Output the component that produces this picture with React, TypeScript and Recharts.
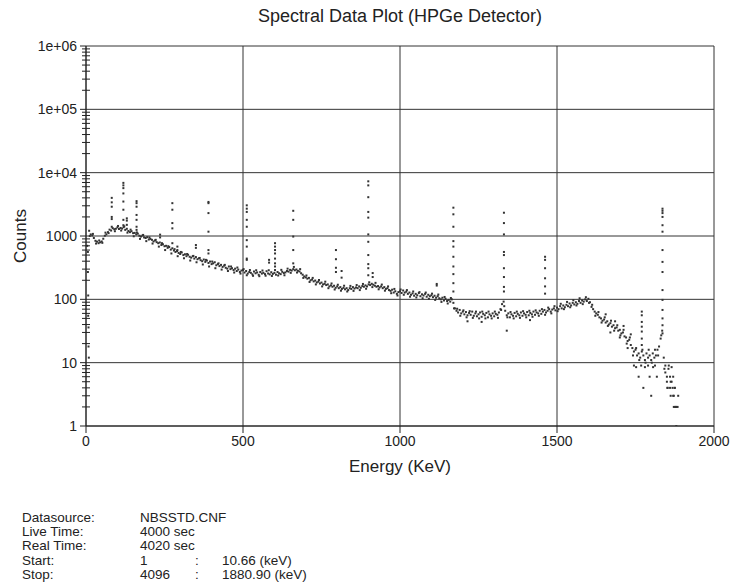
import { ScatterChart, Scatter, XAxis, YAxis, CartesianGrid, ReferenceLine } from "recharts";

const FONT = '"Liberation Sans", Arial, Helvetica, sans-serif';
const INK = "#222";

const xTicks = [0, 500, 1000, 1500, 2000];
const decadeTicks = [1, 10, 100, 1000, 10000, 100000, 1000000];
const decadeLabels = ["1", "10", "100", "1000", "1e+04", "1e+05", "1e+06"];
const minorSteps = [2, 3, 4, 5, 6, 7, 8, 9];

// continuum, one reading every 5 keV
const STEP = 5;
const continuumA = [
  1210, 1060, 1020, 930, 840, 815, 770, 795, 820, 905,
  1010, 1060, 1150, 1260, 1220, 1330, 1280, 1300, 1370, 1290,
  1340, 1310, 1380, 1250, 1300, 1200, 1150, 1190, 1110, 1120,
  1060, 1090, 1010, 980, 1020, 950, 930, 960, 880, 900,
  870, 820, 850, 800, 770, 790, 720, 740, 690, 700,
  650, 670, 610, 640, 590, 560, 580, 540, 520, 550,
  500, 515, 480, 505, 470, 455, 480, 440, 465, 430,
  445, 415, 400, 425, 390, 410, 375, 395, 360, 370,
  385, 345, 360, 335, 350, 325, 340, 315, 305, 330,
  300, 310, 290, 305, 280, 295, 270, 285,
]; // from 10 keV
const continuumB = [
  290, 265, 280, 255, 270, 262, 248, 275, 258, 266,
  244, 270, 255, 262, 250, 278, 256, 248, 268, 252,
  262, 245, 270, 258, 250, 272, 260, 266, 280, 274,
  292, 285, 300, 288, 296, 282, 275, 258, 245, 230,
  222, 212, 218, 200, 205, 192, 198, 185, 190, 178,
  184, 172, 176, 168, 172, 160, 166, 158, 164, 152,
  160, 150, 156, 146, 152, 144, 150, 140, 150, 146,
  156, 148, 154, 150, 160, 152, 162, 158, 166, 160,
  172, 168, 176, 170, 164, 158, 162, 154, 160, 150,
  156, 146, 150, 140, 136, 142, 128, 134, 122, 130,
]; // from 500 keV
const continuumC = [
  134, 126, 138, 128, 132, 122, 128, 118, 124, 114,
  122, 116, 126, 112, 120, 115, 122, 110, 118, 112,
  116, 108, 114, 106, 112, 104, 100, 106, 96, 102,
  94, 98, 92, 100, 88, 72, 66, 62, 68, 60,
  64, 58, 63, 56, 61, 57, 64, 55, 60, 54,
  58, 62, 53, 59, 56, 61, 52, 58, 55, 60,
  54, 59, 57, 62, 70, 84, 92, 66, 56, 60,
  52, 58, 55, 61, 54, 59, 56, 62, 55, 60,
  57, 63, 56, 61, 58, 64, 57, 62, 60, 66,
  59, 64, 68, 62, 66, 70, 64, 69, 72, 67,
]; // from 1000 keV
const continuumD = [
  74, 70, 78, 72, 80, 75, 82, 78, 86, 80,
  88, 83, 90, 85, 94, 88, 96, 92, 100, 94,
  102, 90, 76, 70, 64, 60, 57, 52, 50, 46,
  48, 43, 45, 40, 42, 37, 39, 35, 36, 32,
  33, 29, 30, 26, 25, 22, 23, 19, 17, 15,
  16, 13, 14, 12, 15, 13, 11, 14, 12, 13,
  11, 14, 12, 13, 16, 18, 24, 32, 12, 7,
  5, 8, 4, 5, 3, 4, 2,
]; // from 1500 keV
const continuumStarts = [10, 500, 1000, 1500];

// second set of channel readings between the ones above, every 10 keV
const STEP2 = 10;
const scatterA = [
  1000, 1080, 760, 850, 780, 1130, 1110, 1400, 1190, 1440,
  1220, 1420, 1130, 1260, 990, 1140, 900, 1040, 830, 950,
  760, 870, 680, 770, 600, 690, 530, 620, 480, 560,
  445, 520, 410, 485, 385, 450, 355, 420, 330, 395,
  310, 370, 295, 350, 280, 330, 265, 318, 255,
]; // from 12 keV
const scatterB = [
  300, 240, 290, 235, 288, 232, 285, 236, 288, 234,
  290, 238, 292, 240, 305, 262, 325, 265, 300, 218,
  238, 188, 218, 172, 202, 160, 190, 150, 178, 143,
  170, 137, 164, 133, 163, 136, 168, 140, 175, 147,
  186, 156, 182, 144, 171, 137, 160, 125, 146, 115,
]; // from 502 keV
const scatterC = [
  143, 118, 140, 110, 133, 107, 130, 104, 128, 102,
  123, 98, 119, 91, 109, 86, 105, 72, 71, 55,
  67, 52, 65, 51, 64, 50, 64, 50, 64, 50,
  64, 51, 68, 78, 52, 63, 50, 64, 51, 65,
  52, 66, 53, 67, 55, 70, 57, 74, 60, 78,
]; // from 1002 keV
const scatterD = [
  65, 85, 70, 91, 75, 97, 80, 104, 84, 108,
  88, 82, 55, 63, 43, 52, 38, 46, 32, 39,
  27, 33, 20, 25, 13, 17, 11, 16, 10, 16,
  10, 16, 13, 27, 8, 4, 5, 3,
]; // from 1502 keV
const scatterStarts = [12, 502, 1002, 1502];

// full-energy peaks: channel readings stacked above the continuum
const peakEnergies = [82, 119, 130, 161, 236, 275, 291, 350, 390, 512, 583, 602, 660, 796, 814, 899, 913, 1117, 1170, 1331, 1462, 1770, 1836];
const peakCounts = [
  [4000, 3400, 2900, 2000, 1850],
  [6900, 6300, 5700, 4700, 3500, 2600, 1800, 1480],
  [1900, 1750, 1500],
  [3550, 3300, 2900, 2150, 1800, 1400, 1250],
  [1050, 950],
  [3300, 2600, 1600, 1320, 770],
  [680, 600],
  [720, 650],
  [3450, 3300, 2300, 1170, 600, 530],
  [3050, 2700, 2400, 1800, 1400, 860, 680, 440, 420],
  [420, 380],
  [770, 680, 600, 530, 440, 370, 330],
  [2500, 1800, 980, 600, 370],
  [600, 430, 315, 270],
  [280, 220],
  [7300, 6300, 4100, 2400, 1950, 1060, 810, 500, 360, 310, 240],
  [260, 225],
  [175, 165],
  [2800, 2200, 1400, 830, 680, 470, 330, 250, 180, 133],
  [2330, 1600, 1060, 560, 500, 310, 225, 157, 133],
  [470, 420, 310, 215, 160, 123],
  [64, 56, 44, 37, 31, 24, 19],
  [2700, 2500, 2300, 2000, 1480, 1170, 600, 390, 270, 140, 98, 68, 50, 39, 29],
];

// low-energy rising edge and sparse low-count channels near the end
const edgePoints = [
  [4, 700], [6, 560], [6, 270], [7, 115], [7, 55], [8, 36], [8, 18], [9, 12],
];
const tailPoints = [
  [1655, 58], [1670, 30], [1685, 45], [1700, 25], [1712, 38], [1725, 17], [1735, 28],
  [1745, 9], [1752, 8.5], [1760, 6], [1768, 9], [1775, 4], [1780, 8.5], [1790, 9],
  [1795, 6], [1800, 3], [1806, 8.5], [1812, 9], [1818, 6], [1845, 9], [1850, 6],
  [1852, 4], [1856, 9], [1860, 6], [1862, 3], [1865, 8.5], [1868, 4], [1870, 6],
  [1872, 2], [1875, 4], [1878, 2], [1880, 1], [1876, 2], [1884, 2], [1886, 3],
  [1340, 32], [1414, 47], [1215, 45], [1260, 44],
];

type Pt = { e: number; c: number };
const points: Pt[] = [];
[continuumA, continuumB, continuumC, continuumD].forEach((vals, s) =>
  vals.forEach((c, i) => points.push({ e: continuumStarts[s] + i * STEP, c }))
);
[scatterA, scatterB, scatterC, scatterD].forEach((vals, s) =>
  vals.forEach((c, i) => points.push({ e: scatterStarts[s] + i * STEP2, c }))
);
peakEnergies.forEach((e, k) => peakCounts[k].forEach((c) => points.push({ e, c })));
edgePoints.forEach(([e, c]) => points.push({ e, c }));
tailPoints.forEach(([e, c]) => points.push({ e, c }));

const yTicks: number[] = [];
decadeTicks.forEach((d, i) => {
  yTicks.push(d);
  if (i < decadeTicks.length - 1) minorSteps.forEach((m) => yTicks.push(d * m));
});

function LogTick(props: any) {
  const { x, y, payload } = props;
  const idx = decadeTicks.indexOf(payload.value);
  const ax = x + 6;
  if (idx < 0) {
    return <line x1={ax - 4} x2={ax + 4} y1={y} y2={y} stroke={INK} strokeWidth={1} />;
  }
  return (
    <g>
      <line x1={ax - 6} x2={ax} y1={y} y2={y} stroke={INK} strokeWidth={1} />
      <text x={x - 3} y={y} dy={5} textAnchor="end" fontSize={14} fill={INK} fontFamily={FONT}>
        {decadeLabels[idx]}
      </text>
    </g>
  );
}

const dot = (p: any) => <rect x={p.cx - 1} y={p.cy - 1} width={2} height={2} fill="#333" />;

const infoRows = [
  ["Datasource:", "NBSSTD.CNF", "", ""],
  ["Live Time:", "4000 sec", "", ""],
  ["Real Time:", "4020 sec", "", ""],
  ["Start:", "1", ":", "10.66 (keV)"],
  ["Stop:", "4096", ":", "1880.90 (keV)"],
];

export default function App() {
  return (
    <div style={{ position: "relative", width: 733, height: 583, background: "#fff", fontFamily: FONT, color: INK }}>
      <style>{`body{margin:0}`}</style>
      <div style={{ position: "absolute", left: 0, width: 800, top: 6, textAlign: "center", fontSize: 18, lineHeight: "21px" }}>
        Spectral Data Plot (HPGe Detector)
      </div>
      <ScatterChart width={733} height={480} margin={{ top: 46, right: 19, bottom: 0, left: 0 }}>
        <CartesianGrid horizontal={false} stroke="#333" strokeWidth={1} />
        {decadeTicks.map((d) => (
          <ReferenceLine key={d} y={d} stroke="#333" strokeWidth={1} />
        ))}
        <XAxis
          type="number"
          dataKey="e"
          domain={[0, 2000]}
          ticks={xTicks}
          interval={0}
          tickSize={7}
          tickMargin={3}
          height={54}
          axisLine={{ stroke: INK }}
          tickLine={{ stroke: INK }}
          tick={{ fontSize: 14, fill: INK, fontFamily: FONT }}
          label={{ value: "Energy (KeV)", position: "insideBottom", offset: 8, style: { fontSize: 17, fill: INK, fontFamily: FONT } }}
        />
        <YAxis
          type="number"
          dataKey="c"
          scale="log"
          domain={[1, 1000000]}
          allowDataOverflow
          ticks={yTicks}
          interval={0}
          width={86}
          tickSize={0}
          tickMargin={6}
          tickLine={false}
          axisLine={{ stroke: INK }}
          tick={<LogTick />}
          label={{ value: "Counts", angle: -90, position: "insideLeft", offset: 20, style: { textAnchor: "middle", fontSize: 17, fill: INK, fontFamily: FONT } }}
        />
        <Scatter data={points} shape={dot} isAnimationActive={false} />
      </ScatterChart>
      {infoRows.map((r, i) => (
        <div key={i} style={{ position: "absolute", top: 511 + i * 14.2, left: 0, width: 733, height: 14, fontSize: 13.5, lineHeight: "14px" }}>
          <span style={{ position: "absolute", left: 22 }}>{r[0]}</span>
          <span style={{ position: "absolute", left: 140 }}>{r[1]}</span>
          <span style={{ position: "absolute", left: 195 }}>{r[2]}</span>
          <span style={{ position: "absolute", left: 222 }}>{r[3]}</span>
        </div>
      ))}
    </div>
  );
}
